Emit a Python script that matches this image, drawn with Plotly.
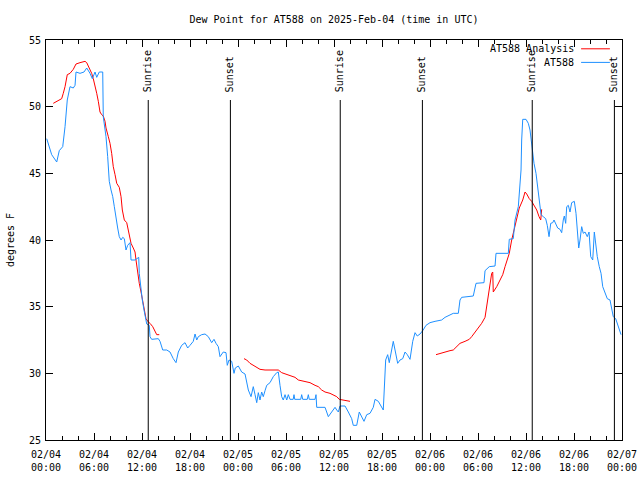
import pandas as pd
import plotly.graph_objects as go

BASE = pd.Timestamp("2025-02-04 00:00")

# Observed dew point (AT588): hours since 02/04 00:00 UTC, degrees F
obs_hours = [0.09, 0.71, 1.34, 1.66, 2.09, 2.38, 2.66, 3.0, 3.41, 3.63, 3.75, 4.25, 4.75, 5.09, 5.5, 5.79,
             6.13, 6.34, 6.66, 7.09, 7.16, 7.5, 7.71, 7.91, 8.13, 8.34, 8.54, 8.75, 8.96, 9.16, 9.38, 9.59,
             9.79, 10.0, 10.21, 10.5, 10.63, 11.13, 11.34, 11.59, 11.66, 11.84, 12.04, 12.25, 12.46, 12.59,
             12.91, 13.0, 13.21, 13.63, 14.04, 14.25, 14.59, 15.09, 15.5, 15.91, 16.25, 16.54, 16.96, 17.38,
             17.71, 18.0, 18.41, 18.63, 18.84, 19.04, 19.46, 19.88, 20.29, 20.71, 21.0, 21.25, 21.54, 21.75,
             22.16, 22.5, 22.66, 22.88, 23.21, 23.5, 23.66, 24.04, 24.46, 24.88, 25.09, 25.29, 25.63, 25.91,
             26.13, 26.34, 26.54, 26.75, 26.96, 27.16, 27.38, 27.59, 28.0, 28.41, 28.84, 29.04, 29.25, 29.46,
             29.66, 29.88, 30.09, 30.29, 30.5, 30.9, 31.0, 31.09, 31.84, 31.96, 32.09, 32.66, 32.79, 32.91,
             33.63, 33.75, 33.84, 34.88, 35.29, 35.71, 36.13, 36.34, 36.54, 36.75, 37.38, 37.79, 38.21, 38.41,
             38.84, 39.16, 39.46, 39.75, 40.09, 40.5, 40.91, 41.13, 41.54, 41.96, 42.16, 42.46, 42.71, 42.91,
             43.13, 43.41, 43.63, 43.96, 44.25, 44.59, 44.88, 45.16, 45.5, 45.84, 46.13, 46.41, 46.75, 47.09,
             47.5, 48.0, 48.63, 49.46, 49.88, 50.71, 50.91, 51.54, 51.75, 51.96, 52.59, 53.41, 53.75, 54.75,
             54.88, 55.41, 56.13, 56.25, 57.79, 57.91, 58.41, 58.63, 59.04, 59.25, 59.38, 59.46, 59.59, 60.0,
             60.29, 60.5, 60.63, 60.79, 61.0, 61.25, 61.41, 61.59, 61.75, 61.88, 62.16, 62.46, 62.66, 62.88,
             63.09, 63.34, 63.5, 63.75, 63.96, 64.25, 64.46, 64.66, 64.79, 64.96, 65.09, 65.29, 65.5, 65.71,
             66.04, 66.25, 66.41, 66.59, 66.75, 66.96, 67.16, 67.38, 67.66, 67.88, 68.09, 68.34, 68.54, 68.71,
             68.91, 69.16, 69.38, 69.59, 69.88, 70.16, 70.5, 70.71, 70.91, 71.21, 71.41, 71.66, 71.88]
obs_dewpoint = [47.6, 46.4, 45.85, 46.7, 47.0, 48.5, 50.5, 51.5, 51.4, 51.6, 52.6, 52.5, 52.6, 52.9, 52.5, 52.1,
                52.6, 52.2, 52.6, 52.6, 49.25, 47.75, 46.25, 44.4, 43.75, 43.25, 42.5, 41.5, 40.9, 40.25, 40.0, 40.2,
                40.1, 39.25, 39.6, 39.8, 38.5, 38.5, 38.6, 38.7, 37.5, 36.5, 35.5, 34.75, 34.0, 33.7,
                33.6, 32.75, 32.55, 32.6, 32.6, 32.4, 31.75, 31.75, 31.6, 31.1, 30.8, 31.6, 32.1, 32.3,
                31.9, 32.1, 32.4, 32.95, 32.5, 32.75, 32.9, 32.95, 32.75, 32.3, 32.55, 32.25, 32.0, 31.25,
                31.6, 31.55, 30.6, 31.0, 30.9, 30.0, 30.4, 30.55, 30.1, 29.95, 29.4, 28.75, 28.25, 29.0,
                28.4, 27.8, 28.55, 28.0, 28.6, 28.25, 28.7, 29.1, 29.3, 29.75, 30.05, 30.1, 29.1, 28.25,
                28.0, 28.4, 28.0, 28.4, 28.05, 28.05, 28.4, 28.05, 28.05, 28.4, 28.05, 28.05, 28.4, 28.05,
                28.05, 28.4, 27.45, 27.45, 26.75, 27.1, 27.45, 27.25, 27.1, 27.55, 27.55, 27.1, 26.6, 26.1,
                26.1, 27.1, 26.75, 26.4, 26.9, 27.0, 27.45, 28.05, 27.9, 27.45, 27.25, 31.0, 31.4, 30.8,
                31.5, 32.4, 31.75, 30.75, 31.0, 31.1, 31.6, 31.4, 31.05, 32.4, 33.05, 32.8, 32.95, 33.2,
                33.6, 33.8, 33.9, 34.0, 34.2, 34.4, 34.5, 34.5, 35.5, 35.7, 35.75, 35.8, 36.75, 36.8,
                37.7, 38.0, 38.05, 39.0, 39.0, 40.05, 40.1, 41.5, 42.5, 44.0, 45.25, 47.5, 49.05, 49.05,
                48.75, 48.25, 47.5, 46.5, 45.75, 45.0, 44.25, 43.25, 42.5, 41.9, 41.75, 41.6, 41.1, 40.25,
                41.25, 41.3, 41.5, 41.2, 40.9, 40.8, 40.55, 41.5, 41.8, 41.25, 42.5, 42.6, 42.1, 42.8,
                42.9, 42.0, 40.5, 39.4, 40.0, 41.0, 40.5, 40.6, 40.25, 40.6, 38.75, 38.5, 40.6, 39.75,
                38.75, 38.0, 37.5, 36.5, 36.0, 35.6, 35.5, 34.75, 34.25, 34.1, 33.75, 33.25, 32.9]

# Analysis dew point (three separate runs; None marks a gap)
ana_hours = [0.91, 1.54, 1.96, 2.16, 2.38, 2.66, 3.0, 3.41, 3.75, 4.25, 4.88, 5.09, 5.41, 5.71, 5.91, 6.13,
             6.34, 6.54, 6.75, 6.96, 7.16, 7.38, 7.5, 7.79, 8.0, 8.21, 8.41, 8.63, 8.84, 9.16, 9.38, 9.54,
             9.79, 10.09, 10.29, 10.5, 10.63, 10.91, 11.13, 11.25, 11.46, 11.66, 11.88, 12.09, 12.29, 12.5,
             12.71, 13.0, 13.34, 13.63, 13.84, 14.16,
             None,
             24.75, 25.09, 25.5, 25.91, 26.34, 26.75, 27.38, 29.04, 29.46, 30.09, 30.71, 31.13, 31.54, 32.16,
             33.0, 33.63, 34.04, 34.46, 34.88, 35.5, 35.91, 36.34, 36.66, 37.38, 38.0,
             None,
             48.75, 49.25, 49.88, 50.5, 50.91, 51.34, 51.75, 52.38, 52.91, 53.21, 53.63, 54.04, 54.46, 54.88,
             55.09, 55.29, 55.5, 55.71, 55.84, 55.91, 56.34, 56.75, 57.09, 57.38, 57.66, 57.91, 58.21, 58.5,
             58.84, 59.16, 59.59, 59.88, 60.09, 60.41, 60.71, 61.0, 61.34, 61.63, 61.84, 61.96]
ana_dewpoint = [50.25, 50.5, 50.6, 51.0, 51.5, 52.4, 52.5, 52.8, 53.2, 53.3, 53.4, 53.3, 52.9, 52.5, 52.1, 51.6,
                51.0, 50.4, 49.6, 49.4, 49.3, 48.9, 48.4, 47.75, 47.25, 46.5, 45.5, 44.9, 44.25, 43.95, 43.25, 42.25,
                41.5, 41.3, 40.75, 40.0, 39.75, 39.4, 39.1, 38.5, 37.4, 36.75, 36.1, 35.4, 34.75, 34.1,
                33.9, 33.75, 33.5, 33.1, 32.9, 32.9,
                None,
                31.1, 31.0, 30.75, 30.6, 30.5, 30.3, 30.25, 30.25, 30.05, 29.9, 29.8, 29.7, 29.5, 29.4,
                29.3, 29.1, 29.0, 28.75, 28.6, 28.5, 28.4, 28.25, 28.05, 28.0, 27.9,
                None,
                31.4, 31.5, 31.6, 31.7, 31.75, 32.0, 32.25, 32.4, 32.55, 32.75, 33.1, 33.4, 33.75, 34.2,
                35.0, 35.9, 36.5, 37.5, 37.6, 36.1, 36.5, 37.0, 37.4, 38.0, 38.6, 39.0, 40.0, 40.8,
                41.6, 42.4, 43.0, 43.6, 43.45, 43.1, 42.9, 42.6, 42.25, 41.75, 41.5, 42.3]

# Sun events (hours since 02/04 00:00 UTC)
sun_labels = ["Sunrise", "Sunset", "Sunrise", "Sunset", "Sunrise", "Sunset"]
sun_hours = [12.78, 23.05, 36.78, 47.05, 60.78, 71.05]

series_names = ["AT588 Analysis", "AT588"]
series_colors = ["#ff0000", "#1e90ff"]


def to_time(hours):
    return [None if h is None else BASE + pd.Timedelta(hours=h) for h in hours]


FONT = "DejaVu Sans Mono"

fig = go.Figure()
fig.add_trace(go.Scatter(x=to_time(ana_hours), y=ana_dewpoint, mode="lines",
                         line=dict(color=series_colors[0], width=1), name=series_names[0],
                         connectgaps=False))
fig.add_trace(go.Scatter(x=to_time(obs_hours), y=obs_dewpoint, mode="lines",
                         line=dict(color=series_colors[1], width=1), name=series_names[1]))

for lbl, h in zip(sun_labels, sun_hours):
    t = BASE + pd.Timedelta(hours=h)
    fig.add_shape(type="line", xref="x", yref="paper", x0=t, x1=t, y0=0, y1=0.85,
                  line=dict(color="black", width=1))
    fig.add_annotation(x=t, y=0.8675, xref="x", yref="paper", text=lbl, textangle=-90,
                       showarrow=False, xanchor="center", yanchor="bottom",
                       font=dict(family=FONT, size=10, color="black"), borderpad=0)

# gnuplot-style key: text right-aligned, sample line to its right
key_rows_y = [0.978, 0.944]
for name, color, yy in zip(series_names, series_colors, key_rows_y):
    fig.add_annotation(x=0.918, y=yy, xref="paper", yref="paper", text=name, showarrow=False,
                       xanchor="right", yanchor="middle",
                       font=dict(family=FONT, size=10, color="black"), borderpad=0)
    fig.add_shape(type="line", xref="paper", yref="paper", x0=0.929, x1=0.979, y0=yy, y1=yy,
                  line=dict(color=color, width=1))

fig.update_layout(
    width=640, height=480,
    margin=dict(l=46, r=18, t=40, b=40),
    paper_bgcolor="white", plot_bgcolor="white",
    showlegend=False,
    font=dict(family=FONT, size=10, color="black"),
    title=dict(text="Dew Point for AT588 on 2025-Feb-04 (time in UTC)", x=0.5, xref="paper",
               xanchor="center", y=1 - 19 / 480, yanchor="middle",
               font=dict(family=FONT, size=10, color="black")),
)
fig.update_xaxes(
    type="date", automargin=False,
    range=[BASE, BASE + pd.Timedelta(hours=72)],
    tick0=BASE, dtick=6 * 3600 * 1000, tickformat="%m/%d<br>%H:%M",
    ticks="inside", ticklen=7, tickcolor="black", tickwidth=1,
    minor=dict(dtick=2 * 3600 * 1000, ticks="inside", ticklen=4, tickcolor="black", tickwidth=1),
    showline=True, linecolor="black", linewidth=1, mirror="allticks",
    showgrid=False, zeroline=False, ticklabelstandoff=5,
    tickfont=dict(family=FONT, size=10, color="black"),
)
fig.update_yaxes(
    automargin=False,
    range=[25, 55], dtick=5, tick0=25,
    ticks="inside", ticklen=7, tickcolor="black", tickwidth=1,
    showline=True, linecolor="black", linewidth=1, mirror="allticks",
    showgrid=False, zeroline=False, ticklabelstandoff=2,
    title=dict(text="degrees F", font=dict(family=FONT, size=10, color="black"), standoff=12),
    tickfont=dict(family=FONT, size=10, color="black"),
)

fig.write_html("out.html", config={"displayModeBar": False, "staticPlot": True},
               post_script="document.body.style.margin='0';document.body.style.overflow='hidden';")
